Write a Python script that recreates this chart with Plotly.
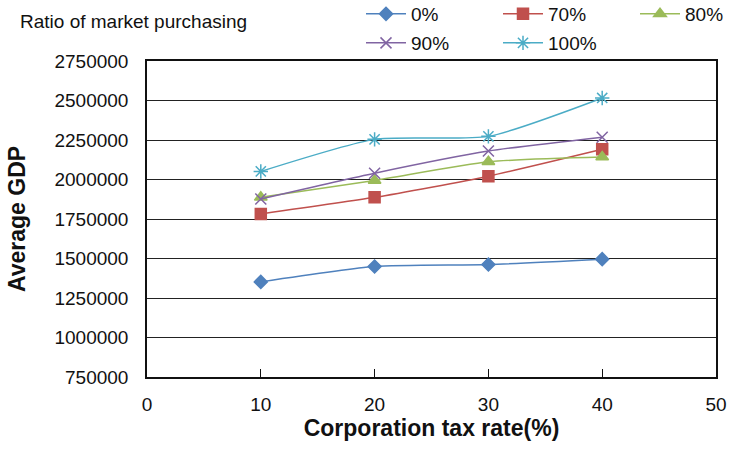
import plotly.graph_objects as go

tax_rate = [10, 20, 30, 40]
gdp_0 = [1352000, 1449000, 1462000, 1496000]
gdp_70 = [1782000, 1887000, 2021000, 2191000]
gdp_80 = [1887000, 1994000, 2112000, 2142000]
gdp_90 = [1877000, 2040000, 2180000, 2268000]
gdp_100 = [2051000, 2254000, 2273000, 2516000]

series = [
    ("0%", gdp_0, "#4F81BD", "diamond", 10, "legend"),
    ("70%", gdp_70, "#C0504D", "square", 11, "legend"),
    ("80%", gdp_80, "#9BBB59", "triangle-up", 11, "legend"),
    ("90%", gdp_90, "#8064A2", "x-thin-open", 11, "legend2"),
    ("100%", gdp_100, "#4BACC6", "asterisk-open", 12, "legend2"),
]

fig = go.Figure()
for name, vals, color, sym, size, leg in series:
    fig.add_trace(go.Scatter(
        x=tax_rate, y=vals, name=name, mode="lines+markers",
        line=dict(color=color, width=1.5, shape="spline", smoothing=0.6),
        marker=dict(symbol=sym, size=size, color=color,
                    line=dict(color=color, width=1.5)),
        legend=leg,
    ))

font_family = "Liberation Sans, Arial, sans-serif"
legend_style = dict(
    orientation="h", xref="container", yref="container",
    xanchor="left", yanchor="middle", bgcolor="rgba(0,0,0,0)",
    font=dict(family=font_family, size=19, color="#111"),
    entrywidth=82, entrywidthmode="pixels", itemwidth=40,
    tracegroupgap=0,
)

fig.update_layout(
    width=732, height=450,
    margin=dict(l=147, r=16, t=61, b=73, autoexpand=False),
    paper_bgcolor="white", plot_bgcolor="white",
    font=dict(family=font_family, size=19, color="#111"),
    showlegend=True,
    legend=dict(legend_style, x=361 / 732, y=1 - 14 / 450),
    legend2=dict(legend_style, x=361 / 732, y=1 - 43 / 450),
    xaxis=dict(
        range=[0, 50], tickvals=[0, 10, 20, 30, 40, 50],
        showgrid=False, zeroline=False,
        showline=True, linecolor="#111", linewidth=1.5, mirror=True,
        ticks="inside", ticklen=8, tickcolor="#111",
        ticklabelstandoff=9,
        tickfont=dict(size=19),
        title=dict(text="<b>Corporation tax rate(%)</b>", font=dict(size=23), standoff=6),
    ),
    yaxis=dict(
        range=[750000, 2750000], tickvals=list(range(750000, 2750001, 250000)),
        tickformat="d",
        showgrid=True, gridcolor="#222", gridwidth=1.2, zeroline=False,
        showline=True, linecolor="#111", linewidth=1.5, mirror=True,
        ticks="", tickfont=dict(size=19), ticklabelstandoff=13,
        title=dict(text="<b>Average GDP</b>", font=dict(size=23), standoff=22),
    ),
    annotations=[dict(
        text="Ratio of market purchasing", xref="paper", yref="paper",
        x=-129 / 569, y=1 + 40 / 316, xanchor="left", yanchor="middle",
        showarrow=False, font=dict(size=19, color="#111"),
    )],
)

fig.write_html("out.html")
